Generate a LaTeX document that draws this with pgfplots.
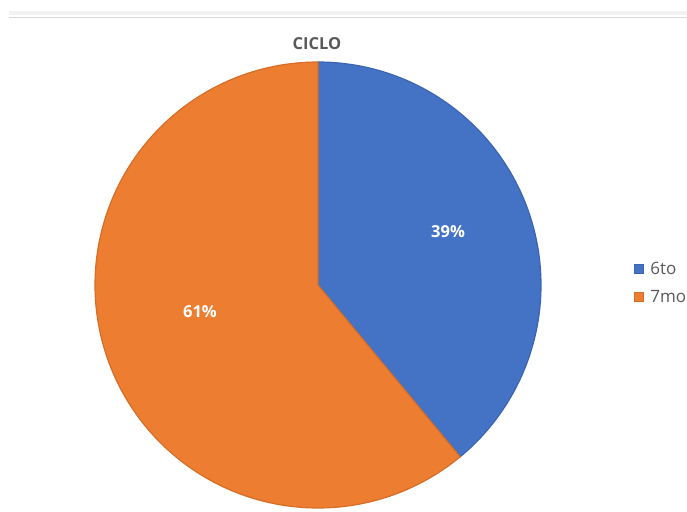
\documentclass[border=0pt]{standalone}
\usepackage{pgfplots}
\pgfplotsset{compat=1.18}
\usepackage{fontspec}
\setmainfont{Open Sans}
\definecolor{pieblue}{HTML}{4472C4}
\definecolor{pieblueedge}{HTML}{3B65B3}
\definecolor{pieorange}{HTML}{ED7D31}
\definecolor{pieorangeedge}{HTML}{D66E27}
\definecolor{txtgray}{HTML}{595959}
\begin{document}
\begin{tikzpicture}
\pgfmathsetmacro{\va}{39}
\pgfmathsetmacro{\vb}{61}
\pgfmathsetmacro{\aa}{90-360*\va/(\va+\vb)}
\begin{axis}[x=1pt,y=1pt,xmin=0,xmax=687,ymin=0,ymax=511,hide axis,clip=false,
  legend style={at={(axis description cs:0.922,0.490)},anchor=north west,draw=none,fill=none,
    font=\fontsize{17}{20}\selectfont,text=txtgray,row sep=11pt,inner sep=0pt,
    nodes={inner sep=1.5pt},cells={anchor=west}},
  legend image code/.code={\fill[#1] (0pt,-4.5pt) rectangle (9pt,4.5pt);\path (14pt,0pt);}]
\addplot[fill=pieblue,draw=pieblueedge,line width=1.2pt,domain=\aa:90,samples=150]
  ({318+223*cos(x)},{226+223*sin(x)}) -- (318,226) -- cycle;
\addlegendentry{6to}
\addplot[fill=pieorange,draw=pieorangeedge,line width=1.2pt,domain=-270:\aa,samples=250]
  ({318+223*cos(x)},{226+223*sin(x)}) -- (318,226) -- cycle;
\addlegendentry{7mo}
\draw[fill=black!5,draw=none] (9,496) rectangle (687,500);
\draw[black!15,line width=1.3pt] (9,493.5) -- (687,493.5);
\node[font=\bfseries\fontsize{16.5}{19}\selectfont,text=txtgray] at (317,467) {CICLO};
\node[font=\bfseries\fontsize{16.5}{19}\selectfont,text=white] at (448,279) {39\%};
\node[font=\bfseries\fontsize{16.5}{19}\selectfont,text=white] at (200,199) {61\%};
\coordinate (bl) at (0,0);
\coordinate (tr) at (687,511);
\end{axis}
\pgfresetboundingbox
\path[use as bounding box] (bl) rectangle (tr);
\end{tikzpicture}
\end{document}
